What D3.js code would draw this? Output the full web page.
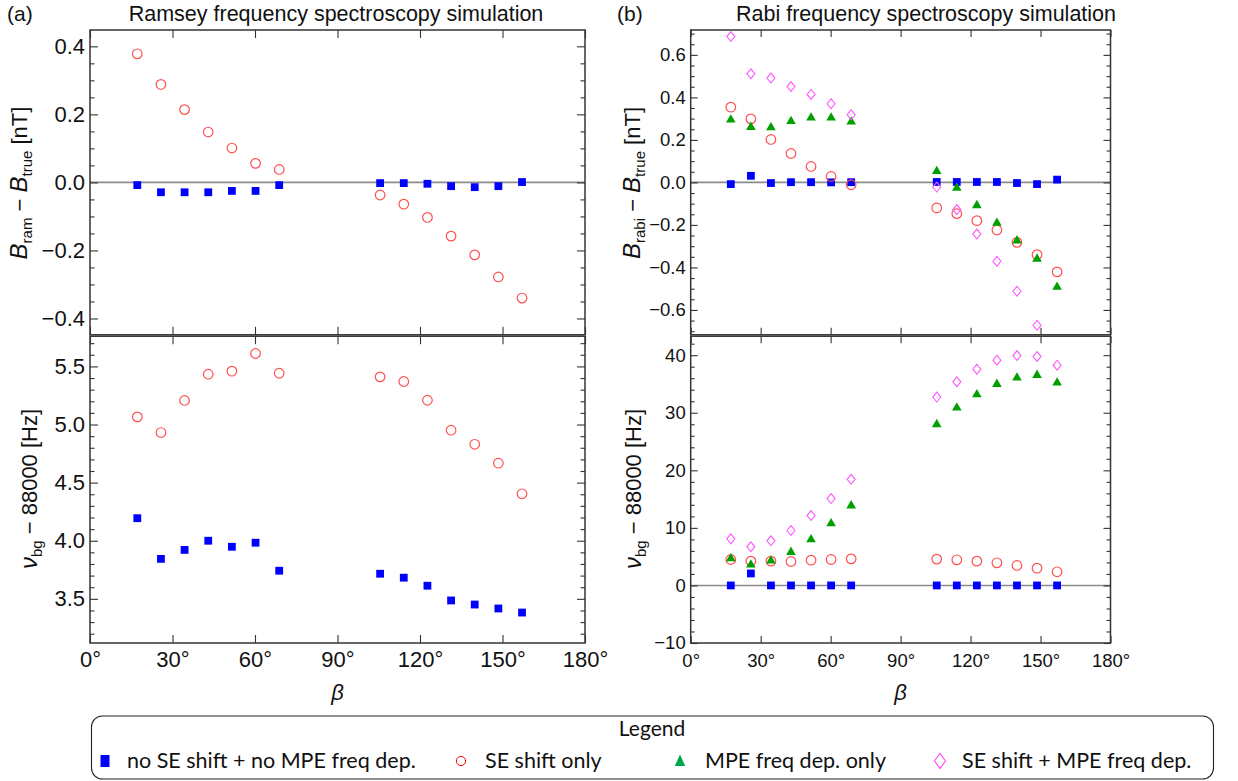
<!DOCTYPE html>
<html><head><meta charset="utf-8">
<script src="https://cdn.jsdelivr.net/npm/d3@7"></script>
<style>body{margin:0;background:#fff}</style>
</head><body>
<svg id="chart" width="1238" height="781"></svg>
<script>
// ---------------- DATA ----------------
const betaDeg = [17.2, 25.8, 34.4, 43.0, 51.6, 60.2, 68.8, 105.5, 114.1, 122.7, 131.3, 139.9, 148.5, 157.1];

// (a) Ramsey: B_ram - B_true [nT]
const ramDB_none  = [-0.008, -0.029, -0.029, -0.029, -0.025, -0.025, -0.008, -0.002, -0.002, -0.004, -0.011, -0.014, -0.011, 0.001];
const ramDB_se    = [0.378, 0.288, 0.214, 0.148, 0.101, 0.056, 0.038, -0.037, -0.064, -0.103, -0.158, -0.213, -0.278, -0.340];
// (a) Ramsey: nu_bg - 88000 [Hz]
const ramNu_none  = [4.194, 3.844, 3.921, 4.000, 3.948, 3.983, 3.742, 3.716, 3.682, 3.613, 3.486, 3.451, 3.417, 3.382];
const ramNu_se    = [5.066, 4.931, 5.207, 5.433, 5.459, 5.611, 5.441, 5.410, 5.370, 5.209, 4.951, 4.830, 4.667, 4.404];

// (b) Rabi: B_rabi - B_true [nT]
const rabiDB_none = [-0.008, 0.031, -0.003, 0.001, 0.001, 0.000, 0.001, 0.002, 0.002, 0.002, 0.002, -0.003, -0.008, 0.013];
const rabiDB_se   = [0.354, 0.299, 0.202, 0.136, 0.075, 0.028, -0.011, -0.120, -0.147, -0.180, -0.224, -0.282, -0.340, -0.421];
const rabiDB_mpe  = [0.295, 0.260, 0.258, 0.288, 0.304, 0.304, 0.285, 0.052, -0.026, -0.108, -0.191, -0.274, -0.360, -0.492];
const rabiDB_both = [0.686, 0.511, 0.491, 0.451, 0.414, 0.370, 0.318, -0.022, -0.128, -0.243, -0.371, -0.512, -0.672, null];
// (b) Rabi: nu_bg - 88000 [Hz]
const rabiNu_none = [0, 2.08, 0, 0, 0, 0, 0, 0, 0, 0, 0, 0, 0, 0];
const rabiNu_se   = [4.51, 4.22, 4.22, 4.16, 4.39, 4.51, 4.62, 4.57, 4.45, 4.22, 3.93, 3.47, 3.00, 2.37];
const rabiNu_mpe  = [4.68, 3.58, 4.28, 5.78, 7.98, 10.75, 13.87, 27.98, 30.87, 33.18, 34.97, 36.07, 36.53, 35.20];
const rabiNu_both = [8.09, 6.71, 7.75, 9.54, 12.14, 15.09, 18.44, 32.72, 35.38, 37.57, 39.13, 39.94, 39.77, 38.27];

// Ticks
const xTicks = [0, 30, 60, 90, 120, 150, 180];
const ramDBTicks = [-0.4, -0.2, 0.0, 0.2, 0.4];
const ramNuTicks = [3.5, 4.0, 4.5, 5.0, 5.5];
const rabiDBTicks = [-0.6, -0.4, -0.2, 0.0, 0.2, 0.4, 0.6];
const rabiNuTicks = [-10, 0, 10, 20, 30, 40];

const legendLabels = ["no SE shift + no MPE freq dep.", "SE shift only", "MPE freq dep. only", "SE shift + MPE freq dep."];
const legendTypes = ["none", "se", "mpe", "both"];

// ---------------- DRAWING ----------------
const svg = d3.select("#chart");
const FONT = "'Liberation Sans', Arial, sans-serif";
const AXC = "#333";

const markers = {
  none: {d: "M-3.9,-3.9h7.8v7.8h-7.8z", fill: "#0000ff", stroke: "none", sw: 0},
  se:   {d: d3.symbol(d3.symbolCircle, Math.PI * 4.8 * 4.8)(), fill: "none", stroke: "#ff5050", sw: 1.2},
  mpe:  {d: d3.symbol(d3.symbolTriangle, 40)(), fill: "#00a000", stroke: "none", sw: 0},
  both: {d: "M0,-4.9L4,0L0,4.9L-4,0Z", fill: "none", stroke: "#ff55ff", sw: 1.1}
};

function minorVals(domain, step, majors) {
  const out = [];
  const k0 = Math.ceil(domain[0] / step - 1e-9), k1 = Math.floor(domain[1] / step + 1e-9);
  for (let k = k0; k <= k1; k++) {
    const v = +(k * step).toFixed(6);
    if (!majors.some(m => Math.abs(m - v) < 1e-9)) out.push(v);
  }
  return out;
}

function styleAxis(sel, fs) {
  sel.select(".domain").remove();
  sel.selectAll(".tick line").attr("stroke", AXC).attr("stroke-width", 1.1);
  sel.selectAll("text").attr("font-family", FONT).attr("font-size", fs).attr("fill", "#111");
  sel.attr("font-family", null).attr("font-size", null);
}

function drawPanel(cfg) {
  const {xr, yr, yDomain, yTicks, yMinorStep, yFmt, xLabels, zero, series, fs, tk} = cfg;
  const x = d3.scaleLinear().domain([0, 180]).range(xr);
  const y = d3.scaleLinear().domain(yDomain).range([yr[1], yr[0]]);
  const g = svg.append("g");

  if (zero) {
    g.append("line").attr("x1", xr[0]).attr("x2", xr[1]).attr("y1", y(0)).attr("y2", y(0))
      .attr("stroke", "#8c8c8c").attr("stroke-width", 1.6);
  }

  series.forEach(s => {
    const m = markers[s.type];
    const pts = betaDeg.map((b, i) => ({b, v: s.values[i]}))
      .filter(p => p.v != null && p.v >= yDomain[0] && p.v <= yDomain[1]);
    g.append("g").selectAll("path").data(pts).join("path")
      .attr("transform", p => `translate(${x(p.b)},${y(p.v)})`)
      .attr("d", m.d).attr("fill", m.fill).attr("stroke", m.stroke).attr("stroke-width", m.sw);
  });

  const minors = minorVals(yDomain, yMinorStep, yTicks);
  const big = -tk, small = -tk * 0.56;
  // left
  g.append("g").attr("transform", `translate(${xr[0]},0)`)
    .call(d3.axisLeft(y).tickValues(yTicks).tickFormat(yFmt).tickSize(big).tickPadding(5))
    .call(s => styleAxis(s, fs));
  g.append("g").attr("transform", `translate(${xr[0]},0)`)
    .call(d3.axisLeft(y).tickValues(minors).tickFormat("").tickSize(small))
    .call(s => styleAxis(s, fs));
  // right
  g.append("g").attr("transform", `translate(${xr[1]},0)`)
    .call(d3.axisRight(y).tickValues(yTicks).tickFormat("").tickSize(big))
    .call(s => styleAxis(s, fs));
  g.append("g").attr("transform", `translate(${xr[1]},0)`)
    .call(d3.axisRight(y).tickValues(minors).tickFormat("").tickSize(small))
    .call(s => styleAxis(s, fs));
  // top
  g.append("g").attr("transform", `translate(0,${yr[0]})`)
    .call(d3.axisTop(x).tickValues(xTicks).tickFormat("").tickSize(big))
    .call(s => styleAxis(s, fs));
  // bottom (label baseline ~667)
  const pad = 667 - yr[1] - 0.71 * fs;
  g.append("g").attr("transform", `translate(0,${yr[1]})`)
    .call(d3.axisBottom(x).tickValues(xTicks).tickFormat(xLabels ? (d => d + "°") : "").tickSize(big).tickPadding(pad))
    .call(s => styleAxis(s, fs));

  g.append("rect").attr("x", xr[0]).attr("y", yr[0]).attr("width", xr[1] - xr[0]).attr("height", yr[1] - yr[0])
    .attr("fill", "none").attr("stroke", AXC).attr("stroke-width", 1.5);
  return {x, y};
}

const fmt1 = d => (d < 0 ? "\u2212" : "") + Math.abs(d).toFixed(1);
const fmt0 = d => (d < 0 ? "\u2212" : "") + Math.abs(d).toFixed(0);

const LX = [90, 585], RX = [690.7, 1110.5];
const TY = [30, 334.8], BY = [336.2, 643];

drawPanel({xr: LX, yr: TY, yDomain: [-0.448, 0.448], yTicks: ramDBTicks, yMinorStep: 0.05, yFmt: fmt1, xLabels: false, zero: true, fs: 22, tk: 8,
  series: [{type: "none", values: ramDB_none}, {type: "se", values: ramDB_se}]});
drawPanel({xr: LX, yr: BY, yDomain: [3.12, 5.76], yTicks: ramNuTicks, yMinorStep: 0.1, yFmt: fmt1, xLabels: true, zero: false, fs: 22, tk: 8,
  series: [{type: "none", values: ramNu_none}, {type: "se", values: ramNu_se}]});
drawPanel({xr: RX, yr: TY, yDomain: [-0.717, 0.717], yTicks: rabiDBTicks, yMinorStep: 0.05, yFmt: fmt1, xLabels: false, zero: true, fs: 18.5, tk: 7,
  series: [{type: "none", values: rabiDB_none}, {type: "se", values: rabiDB_se}, {type: "mpe", values: rabiDB_mpe}, {type: "both", values: rabiDB_both}]});
drawPanel({xr: RX, yr: BY, yDomain: [-10, 43.3], yTicks: rabiNuTicks, yMinorStep: 2, yFmt: fmt0, xLabels: true, zero: true, fs: 18.5, tk: 7,
  series: [{type: "none", values: rabiNu_none}, {type: "se", values: rabiNu_se}, {type: "mpe", values: rabiNu_mpe}, {type: "both", values: rabiNu_both}]});

// ---------------- TEXT ----------------
function txt(x, y, s, opts = {}) {
  return svg.append("text").attr("x", x).attr("y", y).text(s)
    .attr("font-family", opts.family || FONT).attr("font-size", opts.size || 21)
    .attr("text-anchor", opts.anchor || "start").attr("fill", "#111")
    .attr("font-style", opts.style || null);
}
txt(7, 21, "(a)", {size: 21});
txt(336, 21, "Ramsey frequency spectroscopy simulation", {size: 21.5, anchor: "middle"});
txt(617, 21, "(b)", {size: 21});
txt(926, 21, "Rabi frequency spectroscopy simulation", {size: 21.5, anchor: "middle"});

txt((LX[0] + LX[1]) / 2, 700, "\u03B2", {size: 22, anchor: "middle", style: "italic"});
txt((RX[0] + RX[1]) / 2, 700, "\u03B2", {size: 22, anchor: "middle", style: "italic"});

function yLabel(x, y, main, sub, rest, main2, sub2, rest2) {
  const t = svg.append("text").attr("transform", `translate(${x},${y}) rotate(-90)`)
    .attr("text-anchor", "middle").attr("font-family", FONT).attr("font-size", 22).attr("fill", "#111");
  t.append("tspan").attr("font-style", "italic").attr("font-size", 24).text(main);
  t.append("tspan").attr("font-size", 15).attr("dy", 5).text(sub);
  t.append("tspan").attr("dy", -5).text(rest);
  if (main2) {
    t.append("tspan").attr("font-style", "italic").attr("font-size", 24).text(main2);
    t.append("tspan").attr("font-size", 15).attr("dy", 5).text(sub2);
    t.append("tspan").attr("dy", -5).text(rest2);
  }
}
yLabel(27, 183, "B", "ram", " \u2212 ", "B", "true", " [nT]");
yLabel(37, 489, "\u03BD", "bg", " \u2212 88000 [Hz]");
yLabel(640, 183, "B", "rabi", " \u2212 ", "B", "true", " [nT]");
yLabel(641, 489, "\u03BD", "bg", " \u2212 88000 [Hz]");

// ---------------- LEGEND ----------------
const LEGF = "Lato, 'Open Sans', sans-serif";
svg.append("rect").attr("x", 91.5).attr("y", 716).attr("width", 1122).attr("height", 63).attr("rx", 11)
  .attr("fill", "#fff").attr("stroke", "#222").attr("stroke-width", 1.1);
svg.append("text").attr("x", 652).attr("y", 736).attr("text-anchor", "middle")
  .attr("font-family", LEGF).attr("font-size", 21).attr("fill", "#111").text("Legend");

const legMarkers = {
  none: {d: "M-4.5,-6h9v12h-9z", fill: "#0000ff", stroke: "none", sw: 0},
  se:   {d: d3.symbol(d3.symbolCircle, Math.PI * 4.6 * 4.6)(), fill: "none", stroke: "#ff0000", sw: 1},
  mpe:  {d: "M0,-6.5L5.2,5L-5.2,5Z", fill: "#00a64a", stroke: "none", sw: 0},
  both: {d: "M0,-7.5L5.5,0L0,7.5L-5.5,0Z", fill: "none", stroke: "#ff44ff", sw: 1.1}
};
const legMarkX = [105, 461, 680, 940];
const legTextX = [127, 485, 705, 962];
legendTypes.forEach((t, i) => {
  const m = legMarkers[t];
  svg.append("path").attr("transform", `translate(${legMarkX[i]},761)`).attr("d", m.d)
    .attr("fill", m.fill).attr("stroke", m.stroke).attr("stroke-width", m.sw);
  svg.append("text").attr("x", legTextX[i]).attr("y", 768).attr("font-family", LEGF).attr("font-size", 21.5)
    .attr("fill", "#111").text(legendLabels[i]);
});
</script>
</body></html>
